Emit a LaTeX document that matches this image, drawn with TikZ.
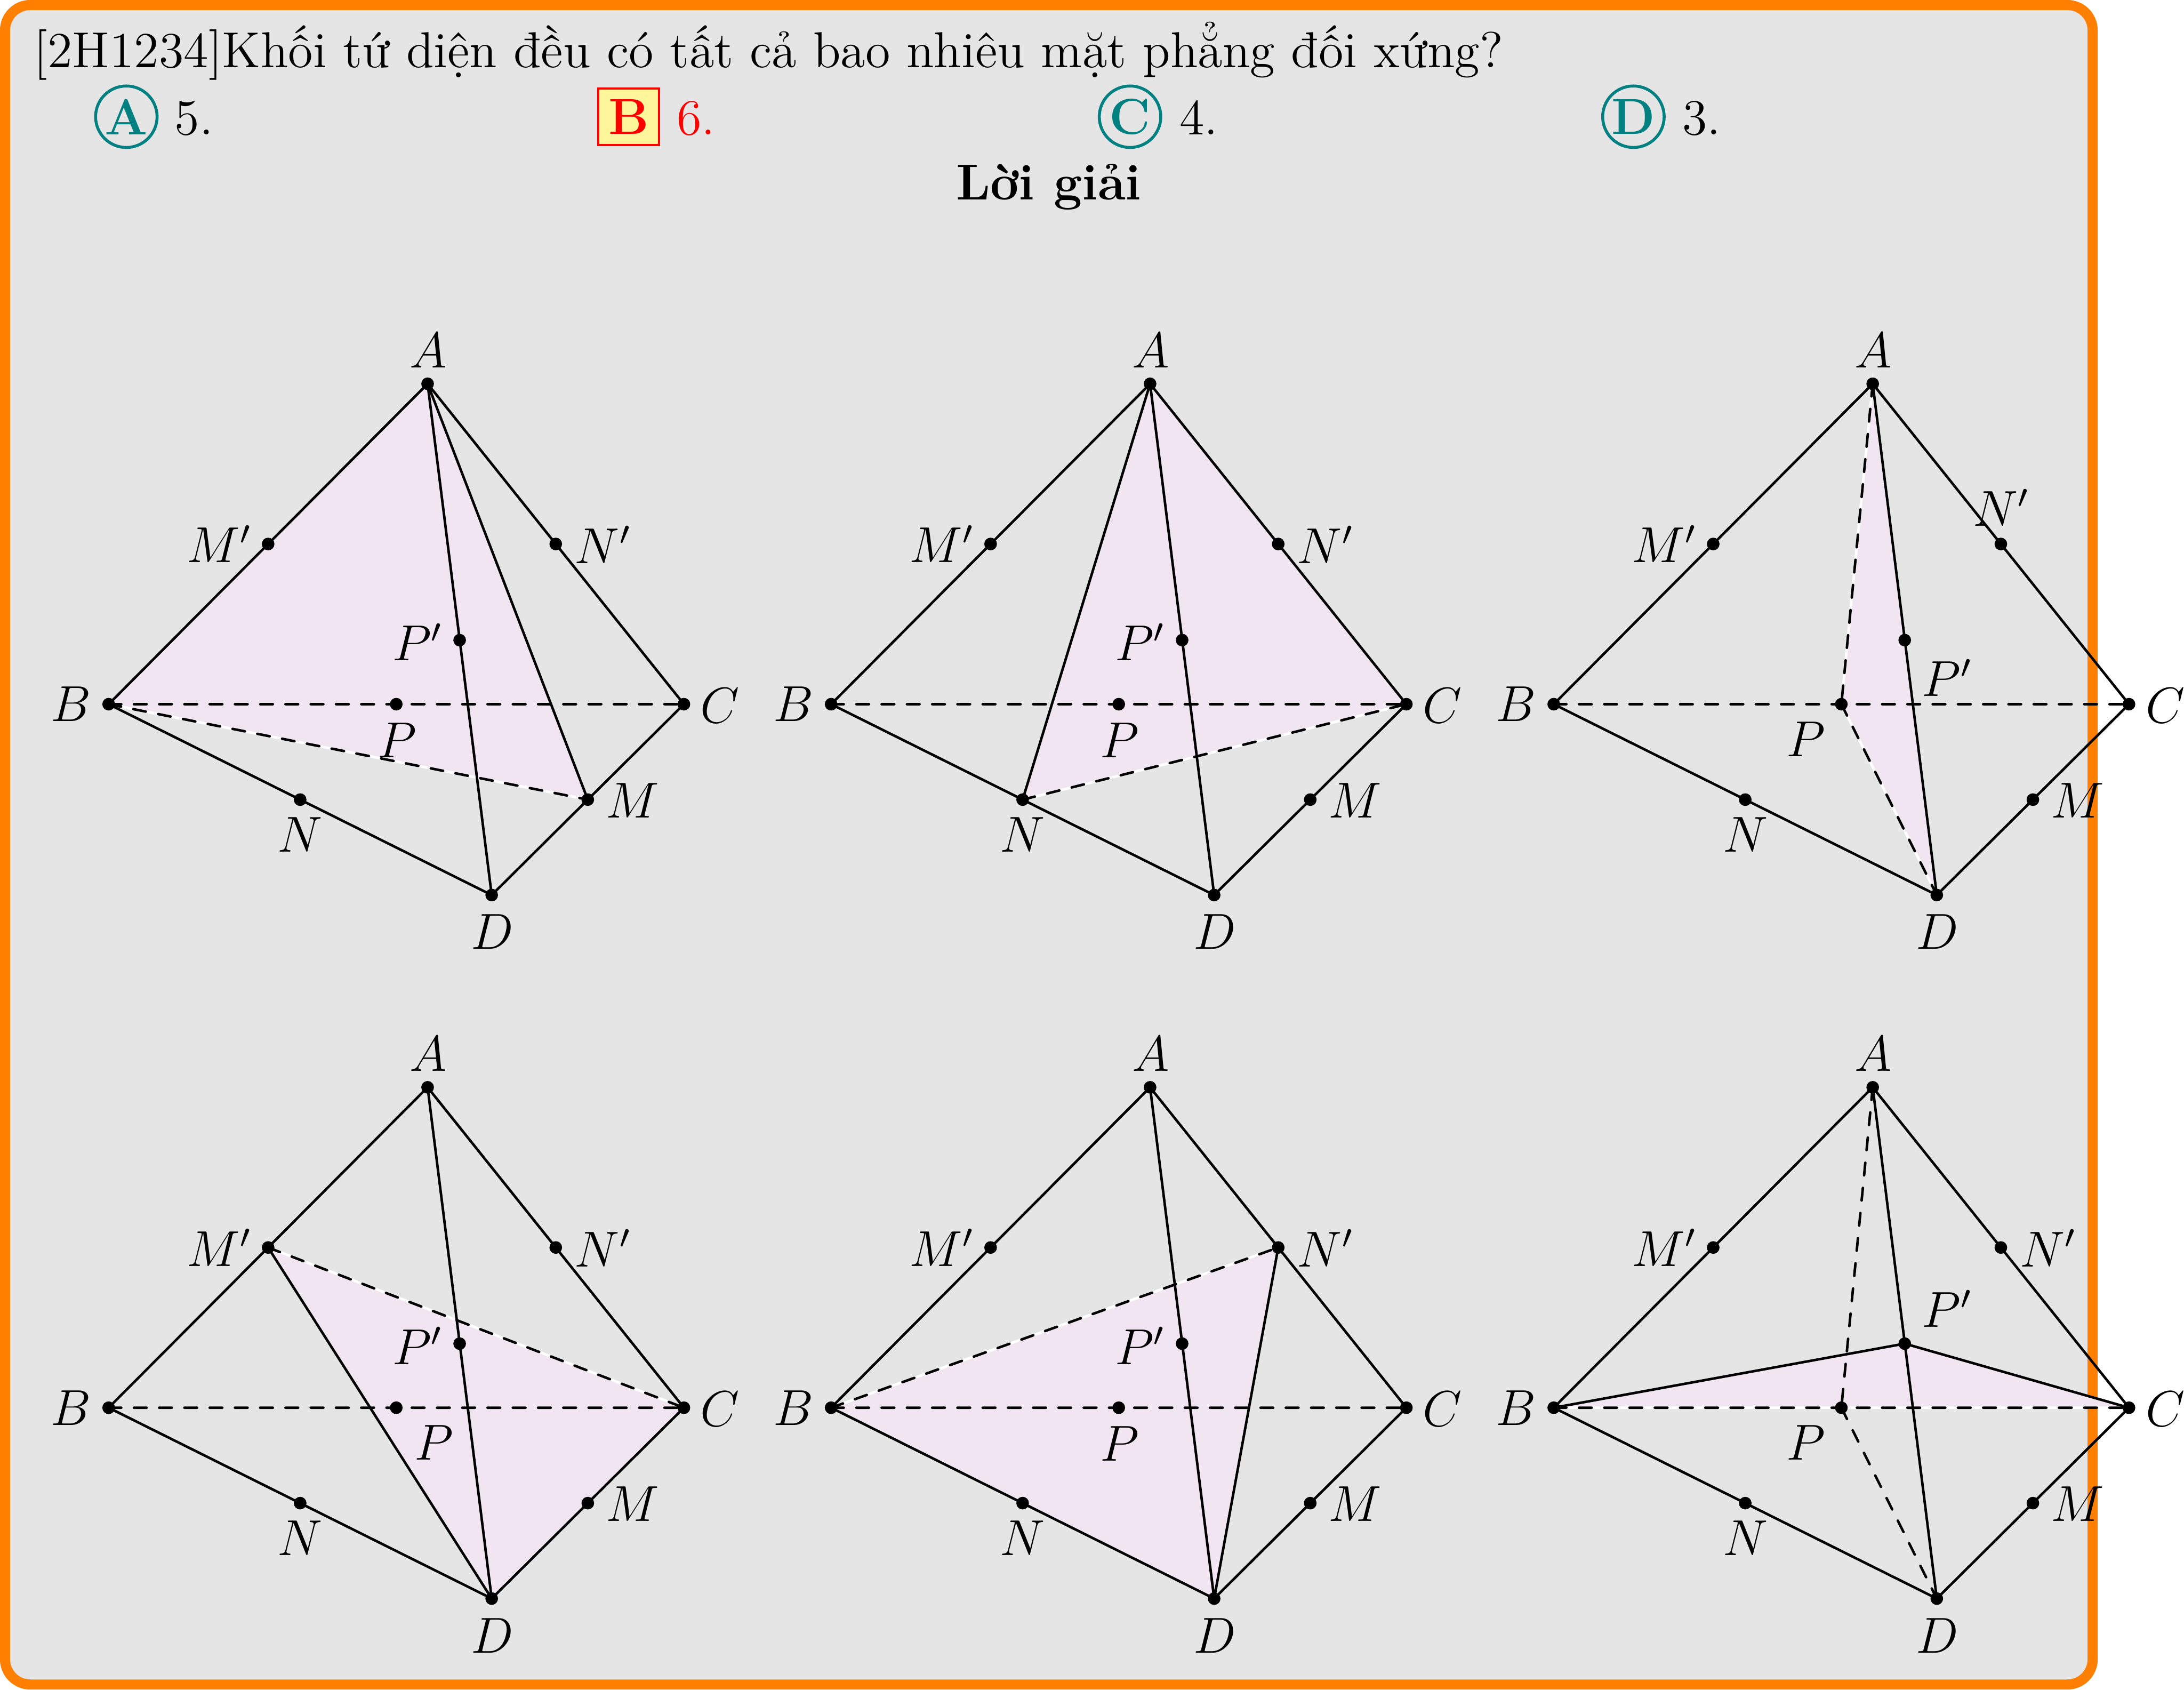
\documentclass[tikz,border=0pt]{standalone}
\usepackage{xcolor}
\definecolor{matphang}{HTML}{F0E5F1}
\definecolor{nenvang}{HTML}{FFF59B}

% one tetrahedron: prefix, x, y, plane, solid edges, dashed edges, offsets of P, P', N'
\newcommand{\tudien}[9]{%
  \begin{scope}[shift={(#2,#3)}, name prefix=#1]
    \coordinate (A) at (307,275.5);
    \coordinate (B) at (78,505.5);
    \coordinate (C) at (491,505.5);
    \coordinate (D) at (353,642.5);
    \coordinate (M) at (422,574);
    \coordinate (N) at (215.5,574);
    \coordinate (Mp) at (192.5,390.5);
    \coordinate (Np) at (399,390.5);
    \coordinate (P) at (284.5,505.5);
    \coordinate (Pp) at (330,459.5);
    \draw[mat] #4 -- cycle;
    \draw[canh] (B) -- (A) -- (C) -- (D) -- (B) (A) -- (D) #5;
    \draw[khuat] (B) -- (C) #6;
    \foreach \p in {A,B,C,D,M,N,Mp,Np,P,Pp}
      \node[diem] (d\p) at (\p) {};
    \foreach \p/\t/\off in {A/A/{0.5,-24}, B/B/{-27,0}, C/C/{26,1}, D/D/{0.5,26.5},
        M/M/{32,0.5}, N/N/{0,25}, Mp/M'/{-35,0}, Np/N'/{#9}, P/P/{#7}, Pp/P'/{#8}}
      \node[nhan] (l\p) at ([shift={(\off)}]\p) {$\t$};
  \end{scope}
}

\begin{document}
\begin{tikzpicture}[
    x=0.01162cm, y=-0.01162cm,
    line width=0.6pt,
    khung/.style={draw=orange, fill=black!10, line width=2.4pt, rounded corners=6pt},
    canh/.style={line cap=round},
    khuat/.style={dashed, line cap=round},
    mat/.style={draw=white, fill=matphang},
    diem/.style={circle, fill=black, inner sep=0pt, minimum size=3pt},
    nhan/.style={inner sep=0pt, font=\large},
    dong/.style={anchor=base west, inner sep=0pt, font=\large},
    dapan/.style={circle, draw=teal, text=teal, line width=0.7pt, inner sep=0pt,
                  minimum size=14.6pt, font=\large\bfseries},
    dapandung/.style={draw=red, fill=nenvang, text=red, line width=0.5pt, inner sep=0pt,
                  minimum width=14.4pt, minimum height=13.4pt, font=\large\bfseries}
  ]
    \useasboundingbox (0,0) rectangle (1568,1213);
    \draw[khung] (3.6,3.6) rectangle (1502.4,1209.2);

    \node[dong] (debai) at (23.5,48.6) {[2H1234]Khối tứ diện đều có tất cả bao nhiêu mặt phẳng đối xứng?};
    \node[dapan] (dapA) at (90.7,83.8) {A};
    \node[dong] (traA) at (124.5,96.5) {5.};
    \node[dapandung] (dapB) at (451.3,83.8) {B};
    \node[dong, red] (traB) at (485,96.5) {6.};
    \node[dapan] (dapC) at (811.3,83.8) {C};
    \node[dong] (traC) at (846,96.5) {4.};
    \node[dapan] (dapD) at (1172.7,83.8) {D};
    \node[dong] (traD) at (1207,96.5) {3.};
    \node[anchor=base, inner sep=0pt, font=\large\bfseries] (loigiai) at (753,143.3) {Lời giải};

    \tudien{a}{0}{0}{(A) -- (B) -- (M)}{(A) -- (M)}{(B) -- (M)}{0.5,26}{-30,1.5}{34,0.5}
    \tudien{b}{518.7}{0}{(A) -- (N) -- (C)}{(A) -- (N)}{(N) -- (C)}{0.5,26}{-30,1.5}{34,0.5}
    \tudien{c}{1037.5}{0}{(A) -- (P) -- (D)}{}{(A) -- (P) (P) -- (D)}{-25.5,25}{30.5,27}{0.5,-26}
    \tudien{d}{0}{505}{(Mp) -- (C) -- (D)}{(Mp) -- (D)}{(Mp) -- (C)}{27,25}{-30,1.5}{34,0.5}
    \tudien{e}{518.7}{505}{(B) -- (Np) -- (D)}{(Np) -- (D)}{(B) -- (Np)}{0.5,26}{-30,1.5}{34,0.5}
    \tudien{f}{1037.5}{505}{(B) -- (Pp) -- (C)}{(B) -- (Pp) (Pp) -- (C)}{(A) -- (P) (P) -- (D)}{-25.5,25}{30.5,-25}{34,0.5}
\end{tikzpicture}
\end{document}
